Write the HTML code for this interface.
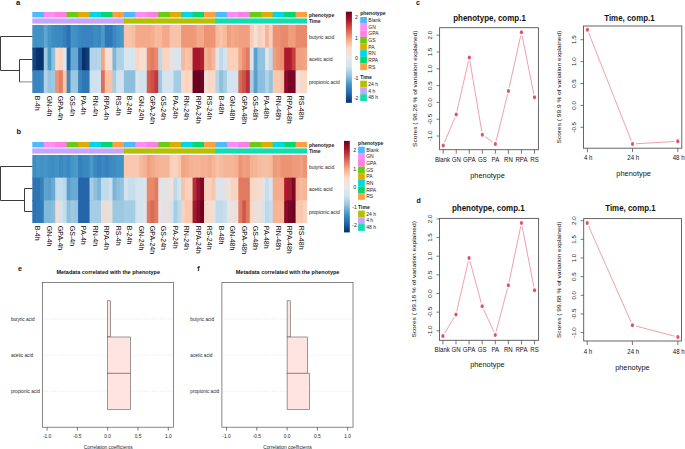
<!DOCTYPE html>
<html><head><meta charset="utf-8"><title>figure</title>
<style>html,body{margin:0;padding:0;background:#fff;width:685px;height:449px;overflow:hidden}svg{display:block}
text{font-family:"Liberation Sans",sans-serif}</style></head>
<body>
<svg width="685" height="449" viewBox="0 0 685 449">
<defs><linearGradient id="rdbu" x1="0" y1="1" x2="0" y2="0">
<stop offset="0" stop-color="#053061"/>
<stop offset="0.1" stop-color="#2166AC"/>
<stop offset="0.2" stop-color="#4393C3"/>
<stop offset="0.3" stop-color="#92C5DE"/>
<stop offset="0.4" stop-color="#D1E5F0"/>
<stop offset="0.5" stop-color="#E9E9E9"/>
<stop offset="0.6" stop-color="#FDDBC7"/>
<stop offset="0.7" stop-color="#F4A582"/>
<stop offset="0.8" stop-color="#D6604D"/>
<stop offset="0.9" stop-color="#B2182B"/>
<stop offset="1" stop-color="#67001F"/>
</linearGradient></defs>
<rect width="685" height="449" fill="#fff"/>
<text x="16.1" y="4.9" font-size="7.6" font-weight="bold" fill="#111" font-family="Liberation Sans, sans-serif">a</text>
<text x="16.5" y="133.8" font-size="7.4" font-weight="bold" fill="#111" font-family="Liberation Sans, sans-serif">b</text>
<rect x="32.3" y="12" width="12.35" height="5.4" fill="#4FB9FF"/>
<rect x="43.75" y="12" width="12.35" height="5.4" fill="#FF8BF5"/>
<rect x="55.2" y="12" width="12.35" height="5.4" fill="#FF7FE6"/>
<rect x="66.64" y="12" width="12.35" height="5.4" fill="#6ACB14"/>
<rect x="78.09" y="12" width="12.35" height="5.4" fill="#DDAE00"/>
<rect x="89.54" y="12" width="12.35" height="5.4" fill="#00D6E6"/>
<rect x="100.99" y="12" width="12.35" height="5.4" fill="#05D672"/>
<rect x="112.44" y="12" width="12.35" height="5.4" fill="#FFA040"/>
<rect x="32.3" y="18.4" width="92.48" height="5.2" fill="#C3A6FF"/>
<rect x="123.88" y="12" width="12.35" height="5.4" fill="#4FB9FF"/>
<rect x="135.33" y="12" width="12.35" height="5.4" fill="#FF8BF5"/>
<rect x="146.78" y="12" width="12.35" height="5.4" fill="#FF7FE6"/>
<rect x="158.23" y="12" width="12.35" height="5.4" fill="#6ACB14"/>
<rect x="169.68" y="12" width="12.35" height="5.4" fill="#DDAE00"/>
<rect x="181.12" y="12" width="12.35" height="5.4" fill="#00D6E6"/>
<rect x="192.57" y="12" width="12.35" height="5.4" fill="#05D672"/>
<rect x="204.02" y="12" width="12.35" height="5.4" fill="#FFA040"/>
<rect x="123.88" y="18.4" width="92.48" height="5.2" fill="#B7BF00"/>
<rect x="215.47" y="12" width="12.35" height="5.4" fill="#4FB9FF"/>
<rect x="226.91" y="12" width="12.35" height="5.4" fill="#FF8BF5"/>
<rect x="238.36" y="12" width="12.35" height="5.4" fill="#FF7FE6"/>
<rect x="249.81" y="12" width="12.35" height="5.4" fill="#6ACB14"/>
<rect x="261.26" y="12" width="12.35" height="5.4" fill="#DDAE00"/>
<rect x="272.71" y="12" width="12.35" height="5.4" fill="#00D6E6"/>
<rect x="284.15" y="12" width="12.35" height="5.4" fill="#05D672"/>
<rect x="295.6" y="12" width="11.45" height="5.4" fill="#FFA040"/>
<rect x="215.47" y="18.4" width="91.58" height="5.2" fill="#15DCAE"/>
<rect x="32.3" y="25" width="4.72" height="23.57" fill="#4292C6"/>
<rect x="36.12" y="25" width="4.72" height="23.57" fill="#4292C6"/>
<rect x="39.93" y="25" width="4.72" height="23.57" fill="#4292C6"/>
<rect x="43.75" y="25" width="4.72" height="23.57" fill="#5EA5D2"/>
<rect x="47.56" y="25" width="4.72" height="23.57" fill="#4595C8"/>
<rect x="51.38" y="25" width="4.72" height="23.57" fill="#3D8DC3"/>
<rect x="55.2" y="25" width="4.72" height="23.57" fill="#3A89C1"/>
<rect x="59.01" y="25" width="4.72" height="23.57" fill="#3A89C1"/>
<rect x="62.83" y="25" width="4.72" height="23.57" fill="#3580BC"/>
<rect x="66.64" y="25" width="4.72" height="23.57" fill="#2A70B3"/>
<rect x="70.46" y="25" width="4.72" height="23.57" fill="#4292C6"/>
<rect x="74.28" y="25" width="4.72" height="23.57" fill="#4090C5"/>
<rect x="78.09" y="25" width="4.72" height="23.57" fill="#3A88C0"/>
<rect x="81.91" y="25" width="4.72" height="23.57" fill="#3984BF"/>
<rect x="85.72" y="25" width="4.72" height="23.57" fill="#3984BF"/>
<rect x="89.54" y="25" width="4.72" height="23.57" fill="#3984BF"/>
<rect x="93.36" y="25" width="4.72" height="23.57" fill="#3D8DC3"/>
<rect x="97.17" y="25" width="4.72" height="23.57" fill="#3A88C0"/>
<rect x="100.99" y="25" width="4.72" height="23.57" fill="#4A98CA"/>
<rect x="104.8" y="25" width="4.72" height="23.57" fill="#2F78B7"/>
<rect x="108.62" y="25" width="4.72" height="23.57" fill="#2F78B7"/>
<rect x="112.44" y="25" width="4.72" height="23.57" fill="#3A88C0"/>
<rect x="116.25" y="25" width="4.72" height="23.57" fill="#4292C6"/>
<rect x="120.07" y="25" width="4.72" height="23.57" fill="#4A98CA"/>
<rect x="123.88" y="25" width="4.72" height="23.57" fill="#F8C3A8"/>
<rect x="127.7" y="25" width="4.72" height="23.57" fill="#F8C3A8"/>
<rect x="131.52" y="25" width="4.72" height="23.57" fill="#F7BEA2"/>
<rect x="135.33" y="25" width="4.72" height="23.57" fill="#F4A98A"/>
<rect x="139.15" y="25" width="4.72" height="23.57" fill="#F4A98A"/>
<rect x="142.96" y="25" width="4.72" height="23.57" fill="#F4A98A"/>
<rect x="146.78" y="25" width="4.72" height="23.57" fill="#F4A98A"/>
<rect x="150.6" y="25" width="4.72" height="23.57" fill="#F5AE8F"/>
<rect x="154.41" y="25" width="4.72" height="23.57" fill="#F7BA9D"/>
<rect x="158.23" y="25" width="4.72" height="23.57" fill="#F7BA9D"/>
<rect x="162.04" y="25" width="4.72" height="23.57" fill="#F4A98A"/>
<rect x="165.86" y="25" width="4.72" height="23.57" fill="#F4A98A"/>
<rect x="169.68" y="25" width="4.72" height="23.57" fill="#F8C3A8"/>
<rect x="173.49" y="25" width="4.72" height="23.57" fill="#F8C3A8"/>
<rect x="177.31" y="25" width="4.72" height="23.57" fill="#F8C3A8"/>
<rect x="181.12" y="25" width="4.72" height="23.57" fill="#EF9878"/>
<rect x="184.94" y="25" width="4.72" height="23.57" fill="#EF9878"/>
<rect x="188.75" y="25" width="4.72" height="23.57" fill="#EF9878"/>
<rect x="192.57" y="25" width="4.72" height="23.57" fill="#EF9A7A"/>
<rect x="196.39" y="25" width="4.72" height="23.57" fill="#F4A98A"/>
<rect x="200.2" y="25" width="4.72" height="23.57" fill="#F4A98A"/>
<rect x="204.02" y="25" width="4.72" height="23.57" fill="#EE9474"/>
<rect x="207.83" y="25" width="4.72" height="23.57" fill="#EE9474"/>
<rect x="211.65" y="25" width="4.72" height="23.57" fill="#EE9474"/>
<rect x="215.47" y="25" width="4.72" height="23.57" fill="#F7BCA0"/>
<rect x="219.28" y="25" width="4.72" height="23.57" fill="#F8C4AA"/>
<rect x="223.1" y="25" width="4.72" height="23.57" fill="#F6BA9C"/>
<rect x="226.91" y="25" width="4.72" height="23.57" fill="#F0A080"/>
<rect x="230.73" y="25" width="4.72" height="23.57" fill="#F3AA8A"/>
<rect x="234.55" y="25" width="4.72" height="23.57" fill="#F2A583"/>
<rect x="238.36" y="25" width="4.72" height="23.57" fill="#F0A080"/>
<rect x="242.18" y="25" width="4.72" height="23.57" fill="#F0A080"/>
<rect x="245.99" y="25" width="4.72" height="23.57" fill="#F0A080"/>
<rect x="249.81" y="25" width="4.72" height="23.57" fill="#F8CDB8"/>
<rect x="253.63" y="25" width="4.72" height="23.57" fill="#F3E0D8"/>
<rect x="257.44" y="25" width="4.72" height="23.57" fill="#F8D0BB"/>
<rect x="261.26" y="25" width="4.72" height="23.57" fill="#FBD6C4"/>
<rect x="265.07" y="25" width="4.72" height="23.57" fill="#F6B598"/>
<rect x="268.89" y="25" width="4.72" height="23.57" fill="#FAD0BB"/>
<rect x="272.71" y="25" width="4.72" height="23.57" fill="#EC9273"/>
<rect x="276.52" y="25" width="4.72" height="23.57" fill="#EC9273"/>
<rect x="280.34" y="25" width="4.72" height="23.57" fill="#E98A6D"/>
<rect x="284.15" y="25" width="4.72" height="23.57" fill="#E98A6D"/>
<rect x="287.97" y="25" width="4.72" height="23.57" fill="#F09D7E"/>
<rect x="291.79" y="25" width="4.72" height="23.57" fill="#F09D7E"/>
<rect x="295.6" y="25" width="4.72" height="23.57" fill="#E98A6D"/>
<rect x="299.42" y="25" width="4.72" height="23.57" fill="#E98A6D"/>
<rect x="303.23" y="25" width="3.82" height="23.57" fill="#E98A6D"/>
<rect x="32.3" y="47.67" width="4.72" height="23.56" fill="#104581"/>
<rect x="36.12" y="47.67" width="4.72" height="23.56" fill="#08326D"/>
<rect x="39.93" y="47.67" width="4.72" height="23.56" fill="#08326D"/>
<rect x="43.75" y="47.67" width="4.72" height="23.56" fill="#9DC9E1"/>
<rect x="47.56" y="47.67" width="4.72" height="23.56" fill="#4E9BCB"/>
<rect x="51.38" y="47.67" width="4.72" height="23.56" fill="#8EC1DD"/>
<rect x="55.2" y="47.67" width="4.72" height="23.56" fill="#FDD9C6"/>
<rect x="59.01" y="47.67" width="4.72" height="23.56" fill="#FCD3BD"/>
<rect x="62.83" y="47.67" width="4.72" height="23.56" fill="#DCE6EE"/>
<rect x="66.64" y="47.67" width="4.72" height="23.56" fill="#1B5FA3"/>
<rect x="70.46" y="47.67" width="4.72" height="23.56" fill="#66A9D2"/>
<rect x="74.28" y="47.67" width="4.72" height="23.56" fill="#66A9D2"/>
<rect x="78.09" y="47.67" width="4.72" height="23.56" fill="#2262A6"/>
<rect x="81.91" y="47.67" width="4.72" height="23.56" fill="#08306B"/>
<rect x="85.72" y="47.67" width="4.72" height="23.56" fill="#0F3F7A"/>
<rect x="89.54" y="47.67" width="4.72" height="23.56" fill="#B3D4E8"/>
<rect x="93.36" y="47.67" width="4.72" height="23.56" fill="#B3D4E8"/>
<rect x="97.17" y="47.67" width="4.72" height="23.56" fill="#B6D6E9"/>
<rect x="100.99" y="47.67" width="4.72" height="23.56" fill="#F4A582"/>
<rect x="104.8" y="47.67" width="4.72" height="23.56" fill="#F4DFD5"/>
<rect x="108.62" y="47.67" width="4.72" height="23.56" fill="#F2DFD6"/>
<rect x="112.44" y="47.67" width="4.72" height="23.56" fill="#7DB6D9"/>
<rect x="116.25" y="47.67" width="4.72" height="23.56" fill="#B0D2E6"/>
<rect x="120.07" y="47.67" width="4.72" height="23.56" fill="#B0D2E6"/>
<rect x="123.88" y="47.67" width="4.72" height="23.56" fill="#D6E5F0"/>
<rect x="127.7" y="47.67" width="4.72" height="23.56" fill="#D6E5F0"/>
<rect x="131.52" y="47.67" width="4.72" height="23.56" fill="#D6E5F0"/>
<rect x="135.33" y="47.67" width="4.72" height="23.56" fill="#FBD5C2"/>
<rect x="139.15" y="47.67" width="4.72" height="23.56" fill="#F8DDD0"/>
<rect x="142.96" y="47.67" width="4.72" height="23.56" fill="#F2DFD8"/>
<rect x="146.78" y="47.67" width="4.72" height="23.56" fill="#E9876B"/>
<rect x="150.6" y="47.67" width="4.72" height="23.56" fill="#E57A60"/>
<rect x="154.41" y="47.67" width="4.72" height="23.56" fill="#E9886C"/>
<rect x="158.23" y="47.67" width="4.72" height="23.56" fill="#BCD9EA"/>
<rect x="162.04" y="47.67" width="4.72" height="23.56" fill="#F9D4BE"/>
<rect x="165.86" y="47.67" width="4.72" height="23.56" fill="#F9D4BE"/>
<rect x="169.68" y="47.67" width="4.72" height="23.56" fill="#E6E2E3"/>
<rect x="173.49" y="47.67" width="4.72" height="23.56" fill="#D8E5EE"/>
<rect x="177.31" y="47.67" width="4.72" height="23.56" fill="#D8E5EE"/>
<rect x="181.12" y="47.67" width="4.72" height="23.56" fill="#F7B89B"/>
<rect x="184.94" y="47.67" width="4.72" height="23.56" fill="#F9C5AC"/>
<rect x="188.75" y="47.67" width="4.72" height="23.56" fill="#F7BEA2"/>
<rect x="192.57" y="47.67" width="4.72" height="23.56" fill="#A8162E"/>
<rect x="196.39" y="47.67" width="4.72" height="23.56" fill="#A8162E"/>
<rect x="200.2" y="47.67" width="4.72" height="23.56" fill="#B01F2E"/>
<rect x="204.02" y="47.67" width="4.72" height="23.56" fill="#F5B194"/>
<rect x="207.83" y="47.67" width="4.72" height="23.56" fill="#F4A788"/>
<rect x="211.65" y="47.67" width="4.72" height="23.56" fill="#F6B89C"/>
<rect x="215.47" y="47.67" width="4.72" height="23.56" fill="#E0E4E9"/>
<rect x="219.28" y="47.67" width="4.72" height="23.56" fill="#BDD9EA"/>
<rect x="223.1" y="47.67" width="4.72" height="23.56" fill="#D3E4EF"/>
<rect x="226.91" y="47.67" width="4.72" height="23.56" fill="#FBCFB8"/>
<rect x="230.73" y="47.67" width="4.72" height="23.56" fill="#FBCFB8"/>
<rect x="234.55" y="47.67" width="4.72" height="23.56" fill="#FBCFB8"/>
<rect x="238.36" y="47.67" width="4.72" height="23.56" fill="#F3A688"/>
<rect x="242.18" y="47.67" width="4.72" height="23.56" fill="#E98C6F"/>
<rect x="245.99" y="47.67" width="4.72" height="23.56" fill="#E07B62"/>
<rect x="249.81" y="47.67" width="4.72" height="23.56" fill="#D6E5EF"/>
<rect x="253.63" y="47.67" width="4.72" height="23.56" fill="#5DA0CD"/>
<rect x="257.44" y="47.67" width="4.72" height="23.56" fill="#93C4DF"/>
<rect x="261.26" y="47.67" width="4.72" height="23.56" fill="#93C4DF"/>
<rect x="265.07" y="47.67" width="4.72" height="23.56" fill="#E3E2E5"/>
<rect x="268.89" y="47.67" width="4.72" height="23.56" fill="#BFDBEB"/>
<rect x="272.71" y="47.67" width="4.72" height="23.56" fill="#F0A080"/>
<rect x="276.52" y="47.67" width="4.72" height="23.56" fill="#EC9474"/>
<rect x="280.34" y="47.67" width="4.72" height="23.56" fill="#EA8D70"/>
<rect x="284.15" y="47.67" width="4.72" height="23.56" fill="#B2182B"/>
<rect x="287.97" y="47.67" width="4.72" height="23.56" fill="#B01A2E"/>
<rect x="291.79" y="47.67" width="4.72" height="23.56" fill="#C53E3E"/>
<rect x="295.6" y="47.67" width="4.72" height="23.56" fill="#F0A080"/>
<rect x="299.42" y="47.67" width="4.72" height="23.56" fill="#F0A080"/>
<rect x="303.23" y="47.67" width="3.82" height="23.56" fill="#F2A583"/>
<rect x="32.3" y="70.33" width="4.72" height="22.67" fill="#3A84BF"/>
<rect x="36.12" y="70.33" width="4.72" height="22.67" fill="#3A84BF"/>
<rect x="39.93" y="70.33" width="4.72" height="22.67" fill="#3D88C1"/>
<rect x="43.75" y="70.33" width="4.72" height="22.67" fill="#B2D3E7"/>
<rect x="47.56" y="70.33" width="4.72" height="22.67" fill="#97C4DF"/>
<rect x="51.38" y="70.33" width="4.72" height="22.67" fill="#9DC8E0"/>
<rect x="55.2" y="70.33" width="4.72" height="22.67" fill="#EE9273"/>
<rect x="59.01" y="70.33" width="4.72" height="22.67" fill="#E57F62"/>
<rect x="62.83" y="70.33" width="4.72" height="22.67" fill="#FAC7AE"/>
<rect x="66.64" y="70.33" width="4.72" height="22.67" fill="#3A88C0"/>
<rect x="70.46" y="70.33" width="4.72" height="22.67" fill="#9DC8E0"/>
<rect x="74.28" y="70.33" width="4.72" height="22.67" fill="#9DC8E0"/>
<rect x="78.09" y="70.33" width="4.72" height="22.67" fill="#3A84BF"/>
<rect x="81.91" y="70.33" width="4.72" height="22.67" fill="#2E76B6"/>
<rect x="85.72" y="70.33" width="4.72" height="22.67" fill="#2E76B6"/>
<rect x="89.54" y="70.33" width="4.72" height="22.67" fill="#CDE1EE"/>
<rect x="93.36" y="70.33" width="4.72" height="22.67" fill="#CDE1EE"/>
<rect x="97.17" y="70.33" width="4.72" height="22.67" fill="#D2E4EF"/>
<rect x="100.99" y="70.33" width="4.72" height="22.67" fill="#DE6E58"/>
<rect x="104.8" y="70.33" width="4.72" height="22.67" fill="#F9C2A7"/>
<rect x="108.62" y="70.33" width="4.72" height="22.67" fill="#F9C2A7"/>
<rect x="112.44" y="70.33" width="4.72" height="22.67" fill="#A7CDE3"/>
<rect x="116.25" y="70.33" width="4.72" height="22.67" fill="#D2E3EF"/>
<rect x="120.07" y="70.33" width="4.72" height="22.67" fill="#D2E3EF"/>
<rect x="123.88" y="70.33" width="4.72" height="22.67" fill="#8EC0DD"/>
<rect x="127.7" y="70.33" width="4.72" height="22.67" fill="#8EC0DD"/>
<rect x="131.52" y="70.33" width="4.72" height="22.67" fill="#8EC0DD"/>
<rect x="135.33" y="70.33" width="4.72" height="22.67" fill="#DCE3EA"/>
<rect x="139.15" y="70.33" width="4.72" height="22.67" fill="#D0E3EF"/>
<rect x="142.96" y="70.33" width="4.72" height="22.67" fill="#D0E3EF"/>
<rect x="146.78" y="70.33" width="4.72" height="22.67" fill="#D65C4C"/>
<rect x="150.6" y="70.33" width="4.72" height="22.67" fill="#CC4E47"/>
<rect x="154.41" y="70.33" width="4.72" height="22.67" fill="#C0393D"/>
<rect x="158.23" y="70.33" width="4.72" height="22.67" fill="#9CC8E0"/>
<rect x="162.04" y="70.33" width="4.72" height="22.67" fill="#D3E4EF"/>
<rect x="165.86" y="70.33" width="4.72" height="22.67" fill="#D3E4EF"/>
<rect x="169.68" y="70.33" width="4.72" height="22.67" fill="#D3E4EF"/>
<rect x="173.49" y="70.33" width="4.72" height="22.67" fill="#A5CDE3"/>
<rect x="177.31" y="70.33" width="4.72" height="22.67" fill="#A5CDE3"/>
<rect x="181.12" y="70.33" width="4.72" height="22.67" fill="#FAD9C7"/>
<rect x="184.94" y="70.33" width="4.72" height="22.67" fill="#F9D3BE"/>
<rect x="188.75" y="70.33" width="4.72" height="22.67" fill="#FAD9C7"/>
<rect x="192.57" y="70.33" width="4.72" height="22.67" fill="#6B0020"/>
<rect x="196.39" y="70.33" width="4.72" height="22.67" fill="#67001F"/>
<rect x="200.2" y="70.33" width="4.72" height="22.67" fill="#6E0524"/>
<rect x="204.02" y="70.33" width="4.72" height="22.67" fill="#F2E0D8"/>
<rect x="207.83" y="70.33" width="4.72" height="22.67" fill="#F9D8C8"/>
<rect x="211.65" y="70.33" width="4.72" height="22.67" fill="#F9D8C8"/>
<rect x="215.47" y="70.33" width="4.72" height="22.67" fill="#B5D5E8"/>
<rect x="219.28" y="70.33" width="4.72" height="22.67" fill="#8EC0DC"/>
<rect x="223.1" y="70.33" width="4.72" height="22.67" fill="#A9CEE4"/>
<rect x="226.91" y="70.33" width="4.72" height="22.67" fill="#D3E4EF"/>
<rect x="230.73" y="70.33" width="4.72" height="22.67" fill="#D3E4EF"/>
<rect x="234.55" y="70.33" width="4.72" height="22.67" fill="#D3E4EF"/>
<rect x="238.36" y="70.33" width="4.72" height="22.67" fill="#DA6A55"/>
<rect x="242.18" y="70.33" width="4.72" height="22.67" fill="#CC5147"/>
<rect x="245.99" y="70.33" width="4.72" height="22.67" fill="#B8313A"/>
<rect x="249.81" y="70.33" width="4.72" height="22.67" fill="#A9CEE4"/>
<rect x="253.63" y="70.33" width="4.72" height="22.67" fill="#5C9FCC"/>
<rect x="257.44" y="70.33" width="4.72" height="22.67" fill="#8BBFDC"/>
<rect x="261.26" y="70.33" width="4.72" height="22.67" fill="#8DC0DC"/>
<rect x="265.07" y="70.33" width="4.72" height="22.67" fill="#AFD2E6"/>
<rect x="268.89" y="70.33" width="4.72" height="22.67" fill="#93C4DF"/>
<rect x="272.71" y="70.33" width="4.72" height="22.67" fill="#F9C9AF"/>
<rect x="276.52" y="70.33" width="4.72" height="22.67" fill="#F9C9AF"/>
<rect x="280.34" y="70.33" width="4.72" height="22.67" fill="#F7BFA3"/>
<rect x="284.15" y="70.33" width="4.72" height="22.67" fill="#8A0A27"/>
<rect x="287.97" y="70.33" width="4.72" height="22.67" fill="#780525"/>
<rect x="291.79" y="70.33" width="4.72" height="22.67" fill="#7D0626"/>
<rect x="295.6" y="70.33" width="4.72" height="22.67" fill="#F2E2DA"/>
<rect x="299.42" y="70.33" width="4.72" height="22.67" fill="#FAD9C7"/>
<rect x="303.23" y="70.33" width="3.82" height="22.67" fill="#FAD9C7"/>
<path d="M32.3 59.5H19.5V81.9" stroke="#3c3c3c" stroke-width="1" fill="none"/>
<path d="M19.5 81.9H32.3" stroke="#3c3c3c" stroke-width="1" stroke-opacity="0.6"/>
<path d="M32.3 36.5H0.5V70.5H19.5" stroke="#3c3c3c" stroke-width="1" fill="none"/>
<text x="308.9" y="16.9" font-size="5" font-weight="bold" fill="#222" font-family="Liberation Sans, sans-serif">phenotype</text>
<text x="308.9" y="22.9" font-size="5" font-weight="bold" fill="#222" font-family="Liberation Sans, sans-serif">Time</text>
<text x="308.9" y="38.54" font-size="5" fill="#1e1e1e" font-family="Liberation Sans, sans-serif">butyric acid</text>
<text x="308.9" y="61.2" font-size="5" fill="#1e1e1e" font-family="Liberation Sans, sans-serif">acetic acid</text>
<text x="308.9" y="83.86" font-size="5" fill="#1e1e1e" font-family="Liberation Sans, sans-serif">propionic acid</text>
<text transform="translate(35.47 95.8) rotate(90)" font-size="7" fill="#000" font-family="Liberation Sans, sans-serif">B-4h</text>
<text transform="translate(46.92 95.8) rotate(90)" font-size="7" fill="#000" font-family="Liberation Sans, sans-serif">GN-4h</text>
<text transform="translate(58.37 95.8) rotate(90)" font-size="7" fill="#000" font-family="Liberation Sans, sans-serif">GPA-4h</text>
<text transform="translate(69.82 95.8) rotate(90)" font-size="7" fill="#000" font-family="Liberation Sans, sans-serif">GS-4h</text>
<text transform="translate(81.27 95.8) rotate(90)" font-size="7" fill="#000" font-family="Liberation Sans, sans-serif">PA-4h</text>
<text transform="translate(92.71 95.8) rotate(90)" font-size="7" fill="#000" font-family="Liberation Sans, sans-serif">RN-4h</text>
<text transform="translate(104.16 95.8) rotate(90)" font-size="7" fill="#000" font-family="Liberation Sans, sans-serif">RPA-4h</text>
<text transform="translate(115.61 95.8) rotate(90)" font-size="7" fill="#000" font-family="Liberation Sans, sans-serif">RS-4h</text>
<text transform="translate(127.06 95.8) rotate(90)" font-size="7" fill="#000" font-family="Liberation Sans, sans-serif">B-24h</text>
<text transform="translate(138.51 95.8) rotate(90)" font-size="7" fill="#000" font-family="Liberation Sans, sans-serif">GN-24h</text>
<text transform="translate(149.95 95.8) rotate(90)" font-size="7" fill="#000" font-family="Liberation Sans, sans-serif">GPA-24h</text>
<text transform="translate(161.4 95.8) rotate(90)" font-size="7" fill="#000" font-family="Liberation Sans, sans-serif">GS-24h</text>
<text transform="translate(172.85 95.8) rotate(90)" font-size="7" fill="#000" font-family="Liberation Sans, sans-serif">PA-24h</text>
<text transform="translate(184.3 95.8) rotate(90)" font-size="7" fill="#000" font-family="Liberation Sans, sans-serif">RN-24h</text>
<text transform="translate(195.74 95.8) rotate(90)" font-size="7" fill="#000" font-family="Liberation Sans, sans-serif">RPA-24h</text>
<text transform="translate(207.19 95.8) rotate(90)" font-size="7" fill="#000" font-family="Liberation Sans, sans-serif">RS-24h</text>
<text transform="translate(218.64 95.8) rotate(90)" font-size="7" fill="#000" font-family="Liberation Sans, sans-serif">B-48h</text>
<text transform="translate(230.09 95.8) rotate(90)" font-size="7" fill="#000" font-family="Liberation Sans, sans-serif">GN-48h</text>
<text transform="translate(241.54 95.8) rotate(90)" font-size="7" fill="#000" font-family="Liberation Sans, sans-serif">GPA-48h</text>
<text transform="translate(252.98 95.8) rotate(90)" font-size="7" fill="#000" font-family="Liberation Sans, sans-serif">GS-48h</text>
<text transform="translate(264.43 95.8) rotate(90)" font-size="7" fill="#000" font-family="Liberation Sans, sans-serif">PA-48h</text>
<text transform="translate(275.88 95.8) rotate(90)" font-size="7" fill="#000" font-family="Liberation Sans, sans-serif">RN-48h</text>
<text transform="translate(287.33 95.8) rotate(90)" font-size="7" fill="#000" font-family="Liberation Sans, sans-serif">RPA-48h</text>
<text transform="translate(298.78 95.8) rotate(90)" font-size="7" fill="#000" font-family="Liberation Sans, sans-serif">RS-48h</text>
<rect x="345.9" y="11.7" width="6" height="91.1" fill="url(#rdbu)"/>
<text x="354.9" y="19.4" font-size="5.2" fill="#1e1e1e" font-family="Liberation Sans, sans-serif">2</text>
<text x="354.9" y="39.5" font-size="5.2" fill="#1e1e1e" font-family="Liberation Sans, sans-serif">1</text>
<text x="354.9" y="60" font-size="5.2" fill="#1e1e1e" font-family="Liberation Sans, sans-serif">0</text>
<text x="353.9" y="80" font-size="5.2" fill="#1e1e1e" font-family="Liberation Sans, sans-serif">-1</text>
<text x="353.9" y="100.1" font-size="5.2" fill="#1e1e1e" font-family="Liberation Sans, sans-serif">-2</text>
<text x="360.2" y="15.2" font-size="5" font-weight="bold" fill="#222" font-family="Liberation Sans, sans-serif">phenotype</text>
<rect x="360.2" y="17" width="6.7" height="6.68" fill="#4FB9FF"/>
<text x="368.3" y="22.1" font-size="5" fill="#1e1e1e" font-family="Liberation Sans, sans-serif">Blank</text>
<rect x="360.2" y="23.63" width="6.7" height="6.68" fill="#FF8BF5"/>
<text x="368.3" y="28.73" font-size="5" fill="#1e1e1e" font-family="Liberation Sans, sans-serif">GN</text>
<rect x="360.2" y="30.26" width="6.7" height="6.68" fill="#FF7FE6"/>
<text x="368.3" y="35.36" font-size="5" fill="#1e1e1e" font-family="Liberation Sans, sans-serif">GPA</text>
<rect x="360.2" y="36.89" width="6.7" height="6.68" fill="#6ACB14"/>
<text x="368.3" y="41.99" font-size="5" fill="#1e1e1e" font-family="Liberation Sans, sans-serif">GS</text>
<rect x="360.2" y="43.52" width="6.7" height="6.68" fill="#DDAE00"/>
<text x="368.3" y="48.62" font-size="5" fill="#1e1e1e" font-family="Liberation Sans, sans-serif">PA</text>
<rect x="360.2" y="50.15" width="6.7" height="6.68" fill="#00D6E6"/>
<text x="368.3" y="55.25" font-size="5" fill="#1e1e1e" font-family="Liberation Sans, sans-serif">RN</text>
<rect x="360.2" y="56.78" width="6.7" height="6.68" fill="#05D672"/>
<text x="368.3" y="61.88" font-size="5" fill="#1e1e1e" font-family="Liberation Sans, sans-serif">RPA</text>
<rect x="360.2" y="63.41" width="6.7" height="6.68" fill="#FFA040"/>
<text x="368.3" y="68.51" font-size="5" fill="#1e1e1e" font-family="Liberation Sans, sans-serif">RS</text>
<text x="360.2" y="79.3" font-size="5" font-weight="bold" fill="#222" font-family="Liberation Sans, sans-serif">Time</text>
<rect x="360.2" y="80.7" width="6.7" height="6.8" fill="#B7BF00"/>
<text x="368.3" y="85.8" font-size="5" fill="#1e1e1e" font-family="Liberation Sans, sans-serif">24 h</text>
<rect x="360.2" y="87.45" width="6.7" height="6.8" fill="#C3A6FF"/>
<text x="368.3" y="92.55" font-size="5" fill="#1e1e1e" font-family="Liberation Sans, sans-serif">4 h</text>
<rect x="360.2" y="94.2" width="6.7" height="6.8" fill="#15DCAE"/>
<text x="368.3" y="99.3" font-size="5" fill="#1e1e1e" font-family="Liberation Sans, sans-serif">48 h</text>
<rect x="32.3" y="142" width="12.35" height="5.4" fill="#4FB9FF"/>
<rect x="43.75" y="142" width="12.35" height="5.4" fill="#FF8BF5"/>
<rect x="55.2" y="142" width="12.35" height="5.4" fill="#FF7FE6"/>
<rect x="66.64" y="142" width="12.35" height="5.4" fill="#6ACB14"/>
<rect x="78.09" y="142" width="12.35" height="5.4" fill="#DDAE00"/>
<rect x="89.54" y="142" width="12.35" height="5.4" fill="#00D6E6"/>
<rect x="100.99" y="142" width="12.35" height="5.4" fill="#05D672"/>
<rect x="112.44" y="142" width="12.35" height="5.4" fill="#FFA040"/>
<rect x="32.3" y="148.4" width="92.48" height="5.2" fill="#C3A6FF"/>
<rect x="123.88" y="142" width="12.35" height="5.4" fill="#4FB9FF"/>
<rect x="135.33" y="142" width="12.35" height="5.4" fill="#FF8BF5"/>
<rect x="146.78" y="142" width="12.35" height="5.4" fill="#FF7FE6"/>
<rect x="158.23" y="142" width="12.35" height="5.4" fill="#6ACB14"/>
<rect x="169.68" y="142" width="12.35" height="5.4" fill="#DDAE00"/>
<rect x="181.12" y="142" width="12.35" height="5.4" fill="#00D6E6"/>
<rect x="192.57" y="142" width="12.35" height="5.4" fill="#05D672"/>
<rect x="204.02" y="142" width="12.35" height="5.4" fill="#FFA040"/>
<rect x="123.88" y="148.4" width="92.48" height="5.2" fill="#B7BF00"/>
<rect x="215.47" y="142" width="12.35" height="5.4" fill="#4FB9FF"/>
<rect x="226.91" y="142" width="12.35" height="5.4" fill="#FF8BF5"/>
<rect x="238.36" y="142" width="12.35" height="5.4" fill="#FF7FE6"/>
<rect x="249.81" y="142" width="12.35" height="5.4" fill="#6ACB14"/>
<rect x="261.26" y="142" width="12.35" height="5.4" fill="#DDAE00"/>
<rect x="272.71" y="142" width="12.35" height="5.4" fill="#00D6E6"/>
<rect x="284.15" y="142" width="12.35" height="5.4" fill="#05D672"/>
<rect x="295.6" y="142" width="11.45" height="5.4" fill="#FFA040"/>
<rect x="215.47" y="148.4" width="91.58" height="5.2" fill="#15DCAE"/>
<rect x="32.3" y="155" width="4.72" height="23.57" fill="#3D8DC3"/>
<rect x="36.12" y="155" width="4.72" height="23.57" fill="#4596C8"/>
<rect x="39.93" y="155" width="4.72" height="23.57" fill="#4292C6"/>
<rect x="43.75" y="155" width="4.72" height="23.57" fill="#4596C8"/>
<rect x="47.56" y="155" width="4.72" height="23.57" fill="#3F8EC4"/>
<rect x="51.38" y="155" width="4.72" height="23.57" fill="#3D8DC3"/>
<rect x="55.2" y="155" width="4.72" height="23.57" fill="#4292C6"/>
<rect x="59.01" y="155" width="4.72" height="23.57" fill="#3A88C0"/>
<rect x="62.83" y="155" width="4.72" height="23.57" fill="#3F8EC4"/>
<rect x="66.64" y="155" width="4.72" height="23.57" fill="#3A88C0"/>
<rect x="70.46" y="155" width="4.72" height="23.57" fill="#4596C8"/>
<rect x="74.28" y="155" width="4.72" height="23.57" fill="#4A99CA"/>
<rect x="78.09" y="155" width="4.72" height="23.57" fill="#3680BC"/>
<rect x="81.91" y="155" width="4.72" height="23.57" fill="#3A88C0"/>
<rect x="85.72" y="155" width="4.72" height="23.57" fill="#3A88C0"/>
<rect x="89.54" y="155" width="4.72" height="23.57" fill="#4A99CA"/>
<rect x="93.36" y="155" width="4.72" height="23.57" fill="#3A88C0"/>
<rect x="97.17" y="155" width="4.72" height="23.57" fill="#3680BC"/>
<rect x="100.99" y="155" width="4.72" height="23.57" fill="#3A88C0"/>
<rect x="104.8" y="155" width="4.72" height="23.57" fill="#3680BC"/>
<rect x="108.62" y="155" width="4.72" height="23.57" fill="#3A88C0"/>
<rect x="112.44" y="155" width="4.72" height="23.57" fill="#3D8DC3"/>
<rect x="116.25" y="155" width="4.72" height="23.57" fill="#4292C6"/>
<rect x="120.07" y="155" width="4.72" height="23.57" fill="#4292C6"/>
<rect x="123.88" y="155" width="4.72" height="23.57" fill="#F9C8AE"/>
<rect x="127.7" y="155" width="4.72" height="23.57" fill="#F9C8AE"/>
<rect x="131.52" y="155" width="4.72" height="23.57" fill="#F9C8AE"/>
<rect x="135.33" y="155" width="4.72" height="23.57" fill="#F9C8AE"/>
<rect x="139.15" y="155" width="4.72" height="23.57" fill="#F5BA9C"/>
<rect x="142.96" y="155" width="4.72" height="23.57" fill="#F4B293"/>
<rect x="146.78" y="155" width="4.72" height="23.57" fill="#F0A080"/>
<rect x="150.6" y="155" width="4.72" height="23.57" fill="#F2A88A"/>
<rect x="154.41" y="155" width="4.72" height="23.57" fill="#F5B193"/>
<rect x="158.23" y="155" width="4.72" height="23.57" fill="#F5B596"/>
<rect x="162.04" y="155" width="4.72" height="23.57" fill="#F5B596"/>
<rect x="165.86" y="155" width="4.72" height="23.57" fill="#F5B596"/>
<rect x="169.68" y="155" width="4.72" height="23.57" fill="#F9D0BB"/>
<rect x="173.49" y="155" width="4.72" height="23.57" fill="#FAD3BF"/>
<rect x="177.31" y="155" width="4.72" height="23.57" fill="#F9C8AE"/>
<rect x="181.12" y="155" width="4.72" height="23.57" fill="#F2A583"/>
<rect x="184.94" y="155" width="4.72" height="23.57" fill="#F3AA8A"/>
<rect x="188.75" y="155" width="4.72" height="23.57" fill="#F5B193"/>
<rect x="192.57" y="155" width="4.72" height="23.57" fill="#F5B596"/>
<rect x="196.39" y="155" width="4.72" height="23.57" fill="#F5B596"/>
<rect x="200.2" y="155" width="4.72" height="23.57" fill="#F4B091"/>
<rect x="204.02" y="155" width="4.72" height="23.57" fill="#F5B193"/>
<rect x="207.83" y="155" width="4.72" height="23.57" fill="#F3AA8A"/>
<rect x="211.65" y="155" width="4.72" height="23.57" fill="#F5B596"/>
<rect x="215.47" y="155" width="4.72" height="23.57" fill="#F8C0A4"/>
<rect x="219.28" y="155" width="4.72" height="23.57" fill="#F7BCA0"/>
<rect x="223.1" y="155" width="4.72" height="23.57" fill="#F5B596"/>
<rect x="226.91" y="155" width="4.72" height="23.57" fill="#F5B596"/>
<rect x="230.73" y="155" width="4.72" height="23.57" fill="#F5B596"/>
<rect x="234.55" y="155" width="4.72" height="23.57" fill="#F4B091"/>
<rect x="238.36" y="155" width="4.72" height="23.57" fill="#EC9474"/>
<rect x="242.18" y="155" width="4.72" height="23.57" fill="#F0A080"/>
<rect x="245.99" y="155" width="4.72" height="23.57" fill="#EE9A7B"/>
<rect x="249.81" y="155" width="4.72" height="23.57" fill="#F5B193"/>
<rect x="253.63" y="155" width="4.72" height="23.57" fill="#F5B596"/>
<rect x="257.44" y="155" width="4.72" height="23.57" fill="#F7BCA0"/>
<rect x="261.26" y="155" width="4.72" height="23.57" fill="#F7BFA3"/>
<rect x="265.07" y="155" width="4.72" height="23.57" fill="#F7BFA3"/>
<rect x="268.89" y="155" width="4.72" height="23.57" fill="#F7BCA0"/>
<rect x="272.71" y="155" width="4.72" height="23.57" fill="#EE9A7B"/>
<rect x="276.52" y="155" width="4.72" height="23.57" fill="#F0A080"/>
<rect x="280.34" y="155" width="4.72" height="23.57" fill="#EC9474"/>
<rect x="284.15" y="155" width="4.72" height="23.57" fill="#EC9474"/>
<rect x="287.97" y="155" width="4.72" height="23.57" fill="#EC9474"/>
<rect x="291.79" y="155" width="4.72" height="23.57" fill="#EE9A7B"/>
<rect x="295.6" y="155" width="4.72" height="23.57" fill="#EE9A7B"/>
<rect x="299.42" y="155" width="4.72" height="23.57" fill="#F0A080"/>
<rect x="303.23" y="155" width="3.82" height="23.57" fill="#EC9474"/>
<rect x="32.3" y="177.67" width="4.72" height="23.56" fill="#2E74B5"/>
<rect x="36.12" y="177.67" width="4.72" height="23.56" fill="#2E74B5"/>
<rect x="39.93" y="177.67" width="4.72" height="23.56" fill="#3680BC"/>
<rect x="43.75" y="177.67" width="4.72" height="23.56" fill="#5FA3CF"/>
<rect x="47.56" y="177.67" width="4.72" height="23.56" fill="#5A9FCC"/>
<rect x="51.38" y="177.67" width="4.72" height="23.56" fill="#6BABD3"/>
<rect x="55.2" y="177.67" width="4.72" height="23.56" fill="#C3DDEC"/>
<rect x="59.01" y="177.67" width="4.72" height="23.56" fill="#C3DDEC"/>
<rect x="62.83" y="177.67" width="4.72" height="23.56" fill="#BBD8E9"/>
<rect x="66.64" y="177.67" width="4.72" height="23.56" fill="#5A9FCC"/>
<rect x="70.46" y="177.67" width="4.72" height="23.56" fill="#6BABD3"/>
<rect x="74.28" y="177.67" width="4.72" height="23.56" fill="#6BABD3"/>
<rect x="78.09" y="177.67" width="4.72" height="23.56" fill="#2565AA"/>
<rect x="81.91" y="177.67" width="4.72" height="23.56" fill="#2565AA"/>
<rect x="85.72" y="177.67" width="4.72" height="23.56" fill="#2565AA"/>
<rect x="89.54" y="177.67" width="4.72" height="23.56" fill="#A8CEE4"/>
<rect x="93.36" y="177.67" width="4.72" height="23.56" fill="#8DC0DC"/>
<rect x="97.17" y="177.67" width="4.72" height="23.56" fill="#7AB5D9"/>
<rect x="100.99" y="177.67" width="4.72" height="23.56" fill="#C0DBEB"/>
<rect x="104.8" y="177.67" width="4.72" height="23.56" fill="#C0DBEB"/>
<rect x="108.62" y="177.67" width="4.72" height="23.56" fill="#CCE1ED"/>
<rect x="112.44" y="177.67" width="4.72" height="23.56" fill="#7CB5DA"/>
<rect x="116.25" y="177.67" width="4.72" height="23.56" fill="#8DBFDC"/>
<rect x="120.07" y="177.67" width="4.72" height="23.56" fill="#93C3DE"/>
<rect x="123.88" y="177.67" width="4.72" height="23.56" fill="#D3E4EF"/>
<rect x="127.7" y="177.67" width="4.72" height="23.56" fill="#C7DFED"/>
<rect x="131.52" y="177.67" width="4.72" height="23.56" fill="#C7DFED"/>
<rect x="135.33" y="177.67" width="4.72" height="23.56" fill="#D3E4EF"/>
<rect x="139.15" y="177.67" width="4.72" height="23.56" fill="#D3E4EF"/>
<rect x="142.96" y="177.67" width="4.72" height="23.56" fill="#D8E5EE"/>
<rect x="146.78" y="177.67" width="4.72" height="23.56" fill="#E8896A"/>
<rect x="150.6" y="177.67" width="4.72" height="23.56" fill="#E8896A"/>
<rect x="154.41" y="177.67" width="4.72" height="23.56" fill="#E37B62"/>
<rect x="158.23" y="177.67" width="4.72" height="23.56" fill="#E3E3E3"/>
<rect x="162.04" y="177.67" width="4.72" height="23.56" fill="#E3E3E3"/>
<rect x="165.86" y="177.67" width="4.72" height="23.56" fill="#E3E3E3"/>
<rect x="169.68" y="177.67" width="4.72" height="23.56" fill="#F3E0D8"/>
<rect x="173.49" y="177.67" width="4.72" height="23.56" fill="#BDD9EA"/>
<rect x="177.31" y="177.67" width="4.72" height="23.56" fill="#D3E4EF"/>
<rect x="181.12" y="177.67" width="4.72" height="23.56" fill="#F8C4AA"/>
<rect x="184.94" y="177.67" width="4.72" height="23.56" fill="#F9D0BB"/>
<rect x="188.75" y="177.67" width="4.72" height="23.56" fill="#FAD3BF"/>
<rect x="192.57" y="177.67" width="4.72" height="23.56" fill="#B83035"/>
<rect x="196.39" y="177.67" width="4.72" height="23.56" fill="#9A1030"/>
<rect x="200.2" y="177.67" width="4.72" height="23.56" fill="#800826"/>
<rect x="204.02" y="177.67" width="4.72" height="23.56" fill="#F9D0BB"/>
<rect x="207.83" y="177.67" width="4.72" height="23.56" fill="#F9D0BB"/>
<rect x="211.65" y="177.67" width="4.72" height="23.56" fill="#F7C5AB"/>
<rect x="215.47" y="177.67" width="4.72" height="23.56" fill="#DCE3EA"/>
<rect x="219.28" y="177.67" width="4.72" height="23.56" fill="#DCE3EA"/>
<rect x="223.1" y="177.67" width="4.72" height="23.56" fill="#E8E0DC"/>
<rect x="226.91" y="177.67" width="4.72" height="23.56" fill="#ECE0DA"/>
<rect x="230.73" y="177.67" width="4.72" height="23.56" fill="#FAD3BF"/>
<rect x="234.55" y="177.67" width="4.72" height="23.56" fill="#FAD3BF"/>
<rect x="238.36" y="177.67" width="4.72" height="23.56" fill="#E07B62"/>
<rect x="242.18" y="177.67" width="4.72" height="23.56" fill="#E07B62"/>
<rect x="245.99" y="177.67" width="4.72" height="23.56" fill="#E07B62"/>
<rect x="249.81" y="177.67" width="4.72" height="23.56" fill="#F9D8C8"/>
<rect x="253.63" y="177.67" width="4.72" height="23.56" fill="#F9D8C8"/>
<rect x="257.44" y="177.67" width="4.72" height="23.56" fill="#F5DCD0"/>
<rect x="261.26" y="177.67" width="4.72" height="23.56" fill="#E8E2E0"/>
<rect x="265.07" y="177.67" width="4.72" height="23.56" fill="#C7DFED"/>
<rect x="268.89" y="177.67" width="4.72" height="23.56" fill="#D8E5EE"/>
<rect x="272.71" y="177.67" width="4.72" height="23.56" fill="#F4AC8D"/>
<rect x="276.52" y="177.67" width="4.72" height="23.56" fill="#F4AC8D"/>
<rect x="280.34" y="177.67" width="4.72" height="23.56" fill="#F4AC8D"/>
<rect x="284.15" y="177.67" width="4.72" height="23.56" fill="#B2182B"/>
<rect x="287.97" y="177.67" width="4.72" height="23.56" fill="#A01A30"/>
<rect x="291.79" y="177.67" width="4.72" height="23.56" fill="#800826"/>
<rect x="295.6" y="177.67" width="4.72" height="23.56" fill="#F5B193"/>
<rect x="299.42" y="177.67" width="4.72" height="23.56" fill="#F7BCA0"/>
<rect x="303.23" y="177.67" width="3.82" height="23.56" fill="#F5B596"/>
<rect x="32.3" y="200.33" width="4.72" height="22.67" fill="#2C73B4"/>
<rect x="36.12" y="200.33" width="4.72" height="22.67" fill="#2F78B7"/>
<rect x="39.93" y="200.33" width="4.72" height="22.67" fill="#3279B8"/>
<rect x="43.75" y="200.33" width="4.72" height="22.67" fill="#80B9DA"/>
<rect x="47.56" y="200.33" width="4.72" height="22.67" fill="#80B9DA"/>
<rect x="51.38" y="200.33" width="4.72" height="22.67" fill="#88BDDB"/>
<rect x="55.2" y="200.33" width="4.72" height="22.67" fill="#EDDDD5"/>
<rect x="59.01" y="200.33" width="4.72" height="22.67" fill="#D3E4EF"/>
<rect x="62.83" y="200.33" width="4.72" height="22.67" fill="#C3DDEC"/>
<rect x="66.64" y="200.33" width="4.72" height="22.67" fill="#8DBFDC"/>
<rect x="70.46" y="200.33" width="4.72" height="22.67" fill="#A0C9E1"/>
<rect x="74.28" y="200.33" width="4.72" height="22.67" fill="#97C5DF"/>
<rect x="78.09" y="200.33" width="4.72" height="22.67" fill="#2565AA"/>
<rect x="81.91" y="200.33" width="4.72" height="22.67" fill="#2565AA"/>
<rect x="85.72" y="200.33" width="4.72" height="22.67" fill="#2565AA"/>
<rect x="89.54" y="200.33" width="4.72" height="22.67" fill="#A5CDE3"/>
<rect x="93.36" y="200.33" width="4.72" height="22.67" fill="#A5CDE3"/>
<rect x="97.17" y="200.33" width="4.72" height="22.67" fill="#A5CDE3"/>
<rect x="100.99" y="200.33" width="4.72" height="22.67" fill="#EBDDD6"/>
<rect x="104.8" y="200.33" width="4.72" height="22.67" fill="#EBDDD6"/>
<rect x="108.62" y="200.33" width="4.72" height="22.67" fill="#E6DFDC"/>
<rect x="112.44" y="200.33" width="4.72" height="22.67" fill="#9CC8E0"/>
<rect x="116.25" y="200.33" width="4.72" height="22.67" fill="#9CC8E0"/>
<rect x="120.07" y="200.33" width="4.72" height="22.67" fill="#9CC8E0"/>
<rect x="123.88" y="200.33" width="4.72" height="22.67" fill="#A5CDE3"/>
<rect x="127.7" y="200.33" width="4.72" height="22.67" fill="#A5CDE3"/>
<rect x="131.52" y="200.33" width="4.72" height="22.67" fill="#A5CDE3"/>
<rect x="135.33" y="200.33" width="4.72" height="22.67" fill="#D3E4EF"/>
<rect x="139.15" y="200.33" width="4.72" height="22.67" fill="#D3E4EF"/>
<rect x="142.96" y="200.33" width="4.72" height="22.67" fill="#E0E4E9"/>
<rect x="146.78" y="200.33" width="4.72" height="22.67" fill="#E07B62"/>
<rect x="150.6" y="200.33" width="4.72" height="22.67" fill="#D96A55"/>
<rect x="154.41" y="200.33" width="4.72" height="22.67" fill="#E07B62"/>
<rect x="158.23" y="200.33" width="4.72" height="22.67" fill="#E8E2E0"/>
<rect x="162.04" y="200.33" width="4.72" height="22.67" fill="#DCE3EA"/>
<rect x="165.86" y="200.33" width="4.72" height="22.67" fill="#EEDED6"/>
<rect x="169.68" y="200.33" width="4.72" height="22.67" fill="#D3E4EF"/>
<rect x="173.49" y="200.33" width="4.72" height="22.67" fill="#A5CDE3"/>
<rect x="177.31" y="200.33" width="4.72" height="22.67" fill="#BDD9EA"/>
<rect x="181.12" y="200.33" width="4.72" height="22.67" fill="#FAD3BF"/>
<rect x="184.94" y="200.33" width="4.72" height="22.67" fill="#F9C8AE"/>
<rect x="188.75" y="200.33" width="4.72" height="22.67" fill="#F9C8AE"/>
<rect x="192.57" y="200.33" width="4.72" height="22.67" fill="#A01A30"/>
<rect x="196.39" y="200.33" width="4.72" height="22.67" fill="#8A0A27"/>
<rect x="200.2" y="200.33" width="4.72" height="22.67" fill="#700020"/>
<rect x="204.02" y="200.33" width="4.72" height="22.67" fill="#F8D8C8"/>
<rect x="207.83" y="200.33" width="4.72" height="22.67" fill="#FADACB"/>
<rect x="211.65" y="200.33" width="4.72" height="22.67" fill="#ECE0DA"/>
<rect x="215.47" y="200.33" width="4.72" height="22.67" fill="#C0DBEB"/>
<rect x="219.28" y="200.33" width="4.72" height="22.67" fill="#C0DBEB"/>
<rect x="223.1" y="200.33" width="4.72" height="22.67" fill="#C7DFED"/>
<rect x="226.91" y="200.33" width="4.72" height="22.67" fill="#E8E2E0"/>
<rect x="230.73" y="200.33" width="4.72" height="22.67" fill="#E8E2E0"/>
<rect x="234.55" y="200.33" width="4.72" height="22.67" fill="#F0DFD8"/>
<rect x="238.36" y="200.33" width="4.72" height="22.67" fill="#E07B62"/>
<rect x="242.18" y="200.33" width="4.72" height="22.67" fill="#D05A4A"/>
<rect x="245.99" y="200.33" width="4.72" height="22.67" fill="#E07B62"/>
<rect x="249.81" y="200.33" width="4.72" height="22.67" fill="#F9D8C8"/>
<rect x="253.63" y="200.33" width="4.72" height="22.67" fill="#E6E2E2"/>
<rect x="257.44" y="200.33" width="4.72" height="22.67" fill="#F3DED4"/>
<rect x="261.26" y="200.33" width="4.72" height="22.67" fill="#D3E4EF"/>
<rect x="265.07" y="200.33" width="4.72" height="22.67" fill="#BDD9EA"/>
<rect x="268.89" y="200.33" width="4.72" height="22.67" fill="#C7DFED"/>
<rect x="272.71" y="200.33" width="4.72" height="22.67" fill="#F5B596"/>
<rect x="276.52" y="200.33" width="4.72" height="22.67" fill="#F5B596"/>
<rect x="280.34" y="200.33" width="4.72" height="22.67" fill="#F5B596"/>
<rect x="284.15" y="200.33" width="4.72" height="22.67" fill="#8A0A27"/>
<rect x="287.97" y="200.33" width="4.72" height="22.67" fill="#7A0424"/>
<rect x="291.79" y="200.33" width="4.72" height="22.67" fill="#6E0020"/>
<rect x="295.6" y="200.33" width="4.72" height="22.67" fill="#F9C9AF"/>
<rect x="299.42" y="200.33" width="4.72" height="22.67" fill="#F9C9AF"/>
<rect x="303.23" y="200.33" width="3.82" height="22.67" fill="#FAD3BF"/>
<path d="M32.3 188.5H24.5V211.5" stroke="#3c3c3c" stroke-width="1" fill="none"/>
<path d="M24.5 211.5H32.3" stroke="#3c3c3c" stroke-width="1" stroke-opacity="1"/>
<path d="M32.3 166.5H0.5V200.5H24.5" stroke="#3c3c3c" stroke-width="1" fill="none"/>
<text x="308.9" y="146.9" font-size="5" font-weight="bold" fill="#222" font-family="Liberation Sans, sans-serif">phenotype</text>
<text x="308.9" y="152.9" font-size="5" font-weight="bold" fill="#222" font-family="Liberation Sans, sans-serif">Time</text>
<text x="308.9" y="168.53" font-size="5" fill="#1e1e1e" font-family="Liberation Sans, sans-serif">butyric acid</text>
<text x="308.9" y="191.2" font-size="5" fill="#1e1e1e" font-family="Liberation Sans, sans-serif">acetic acid</text>
<text x="308.9" y="213.86" font-size="5" fill="#1e1e1e" font-family="Liberation Sans, sans-serif">propionic acid</text>
<text transform="translate(35.47 225.8) rotate(90)" font-size="7" fill="#000" font-family="Liberation Sans, sans-serif">B-4h</text>
<text transform="translate(46.92 225.8) rotate(90)" font-size="7" fill="#000" font-family="Liberation Sans, sans-serif">GN-4h</text>
<text transform="translate(58.37 225.8) rotate(90)" font-size="7" fill="#000" font-family="Liberation Sans, sans-serif">GPA-4h</text>
<text transform="translate(69.82 225.8) rotate(90)" font-size="7" fill="#000" font-family="Liberation Sans, sans-serif">GS-4h</text>
<text transform="translate(81.27 225.8) rotate(90)" font-size="7" fill="#000" font-family="Liberation Sans, sans-serif">PA-4h</text>
<text transform="translate(92.71 225.8) rotate(90)" font-size="7" fill="#000" font-family="Liberation Sans, sans-serif">RN-4h</text>
<text transform="translate(104.16 225.8) rotate(90)" font-size="7" fill="#000" font-family="Liberation Sans, sans-serif">RPA-4h</text>
<text transform="translate(115.61 225.8) rotate(90)" font-size="7" fill="#000" font-family="Liberation Sans, sans-serif">RS-4h</text>
<text transform="translate(127.06 225.8) rotate(90)" font-size="7" fill="#000" font-family="Liberation Sans, sans-serif">B-24h</text>
<text transform="translate(138.51 225.8) rotate(90)" font-size="7" fill="#000" font-family="Liberation Sans, sans-serif">GN-24h</text>
<text transform="translate(149.95 225.8) rotate(90)" font-size="7" fill="#000" font-family="Liberation Sans, sans-serif">GPA-24h</text>
<text transform="translate(161.4 225.8) rotate(90)" font-size="7" fill="#000" font-family="Liberation Sans, sans-serif">GS-24h</text>
<text transform="translate(172.85 225.8) rotate(90)" font-size="7" fill="#000" font-family="Liberation Sans, sans-serif">PA-24h</text>
<text transform="translate(184.3 225.8) rotate(90)" font-size="7" fill="#000" font-family="Liberation Sans, sans-serif">RN-24h</text>
<text transform="translate(195.74 225.8) rotate(90)" font-size="7" fill="#000" font-family="Liberation Sans, sans-serif">RPA-24h</text>
<text transform="translate(207.19 225.8) rotate(90)" font-size="7" fill="#000" font-family="Liberation Sans, sans-serif">RS-24h</text>
<text transform="translate(218.64 225.8) rotate(90)" font-size="7" fill="#000" font-family="Liberation Sans, sans-serif">B-48h</text>
<text transform="translate(230.09 225.8) rotate(90)" font-size="7" fill="#000" font-family="Liberation Sans, sans-serif">GN-48h</text>
<text transform="translate(241.54 225.8) rotate(90)" font-size="7" fill="#000" font-family="Liberation Sans, sans-serif">GPA-48h</text>
<text transform="translate(252.98 225.8) rotate(90)" font-size="7" fill="#000" font-family="Liberation Sans, sans-serif">GS-48h</text>
<text transform="translate(264.43 225.8) rotate(90)" font-size="7" fill="#000" font-family="Liberation Sans, sans-serif">PA-48h</text>
<text transform="translate(275.88 225.8) rotate(90)" font-size="7" fill="#000" font-family="Liberation Sans, sans-serif">RN-48h</text>
<text transform="translate(287.33 225.8) rotate(90)" font-size="7" fill="#000" font-family="Liberation Sans, sans-serif">RPA-48h</text>
<text transform="translate(298.78 225.8) rotate(90)" font-size="7" fill="#000" font-family="Liberation Sans, sans-serif">RS-48h</text>
<rect x="344" y="140.9" width="5.8" height="91.5" fill="url(#rdbu)"/>
<text x="353.3" y="151.6" font-size="5.2" fill="#1e1e1e" font-family="Liberation Sans, sans-serif">2</text>
<text x="353.3" y="170.5" font-size="5.2" fill="#1e1e1e" font-family="Liberation Sans, sans-serif">1</text>
<text x="353.3" y="189.4" font-size="5.2" fill="#1e1e1e" font-family="Liberation Sans, sans-serif">0</text>
<text x="352.3" y="209" font-size="5.2" fill="#1e1e1e" font-family="Liberation Sans, sans-serif">-1</text>
<text x="352.3" y="227.3" font-size="5.2" fill="#1e1e1e" font-family="Liberation Sans, sans-serif">-2</text>
<text x="358.1" y="145.2" font-size="5" font-weight="bold" fill="#222" font-family="Liberation Sans, sans-serif">phenotype</text>
<rect x="358.1" y="146.7" width="6.7" height="6.68" fill="#4FB9FF"/>
<text x="366.2" y="151.8" font-size="5" fill="#1e1e1e" font-family="Liberation Sans, sans-serif">Blank</text>
<rect x="358.1" y="153.33" width="6.7" height="6.68" fill="#FF8BF5"/>
<text x="366.2" y="158.43" font-size="5" fill="#1e1e1e" font-family="Liberation Sans, sans-serif">GN</text>
<rect x="358.1" y="159.96" width="6.7" height="6.68" fill="#FF7FE6"/>
<text x="366.2" y="165.06" font-size="5" fill="#1e1e1e" font-family="Liberation Sans, sans-serif">GPA</text>
<rect x="358.1" y="166.59" width="6.7" height="6.68" fill="#6ACB14"/>
<text x="366.2" y="171.69" font-size="5" fill="#1e1e1e" font-family="Liberation Sans, sans-serif">GS</text>
<rect x="358.1" y="173.22" width="6.7" height="6.68" fill="#DDAE00"/>
<text x="366.2" y="178.32" font-size="5" fill="#1e1e1e" font-family="Liberation Sans, sans-serif">PA</text>
<rect x="358.1" y="179.85" width="6.7" height="6.68" fill="#00D6E6"/>
<text x="366.2" y="184.95" font-size="5" fill="#1e1e1e" font-family="Liberation Sans, sans-serif">RN</text>
<rect x="358.1" y="186.48" width="6.7" height="6.68" fill="#05D672"/>
<text x="366.2" y="191.58" font-size="5" fill="#1e1e1e" font-family="Liberation Sans, sans-serif">RPA</text>
<rect x="358.1" y="193.11" width="6.7" height="6.68" fill="#FFA040"/>
<text x="366.2" y="198.21" font-size="5" fill="#1e1e1e" font-family="Liberation Sans, sans-serif">RS</text>
<text x="358.1" y="209.2" font-size="5" font-weight="bold" fill="#222" font-family="Liberation Sans, sans-serif">Time</text>
<rect x="358.1" y="210.6" width="6.7" height="6.8" fill="#B7BF00"/>
<text x="366.2" y="215.7" font-size="5" fill="#1e1e1e" font-family="Liberation Sans, sans-serif">24 h</text>
<rect x="358.1" y="217.35" width="6.7" height="6.8" fill="#C3A6FF"/>
<text x="366.2" y="222.45" font-size="5" fill="#1e1e1e" font-family="Liberation Sans, sans-serif">4 h</text>
<rect x="358.1" y="224.1" width="6.7" height="6.8" fill="#15DCAE"/>
<text x="366.2" y="229.2" font-size="5" fill="#1e1e1e" font-family="Liberation Sans, sans-serif">48 h</text>
<rect x="439.6" y="27.7" width="98.8" height="122" fill="none" stroke="#555" stroke-width="0.9"/>
<path d="M439.6 136H436.6" stroke="#555" stroke-width="0.8"/>
<text transform="translate(432.3 136) rotate(-90)" text-anchor="middle" font-size="6.2" fill="#222" font-family="Liberation Sans, sans-serif">-1.0</text>
<path d="M439.6 119.2H436.6" stroke="#555" stroke-width="0.8"/>
<text transform="translate(432.3 119.2) rotate(-90)" text-anchor="middle" font-size="6.2" fill="#222" font-family="Liberation Sans, sans-serif">-0.5</text>
<path d="M439.6 102.4H436.6" stroke="#555" stroke-width="0.8"/>
<text transform="translate(432.3 102.4) rotate(-90)" text-anchor="middle" font-size="6.2" fill="#222" font-family="Liberation Sans, sans-serif">0.0</text>
<path d="M439.6 85.6H436.6" stroke="#555" stroke-width="0.8"/>
<text transform="translate(432.3 85.6) rotate(-90)" text-anchor="middle" font-size="6.2" fill="#222" font-family="Liberation Sans, sans-serif">0.5</text>
<path d="M439.6 68.8H436.6" stroke="#555" stroke-width="0.8"/>
<text transform="translate(432.3 68.8) rotate(-90)" text-anchor="middle" font-size="6.2" fill="#222" font-family="Liberation Sans, sans-serif">1.0</text>
<path d="M439.6 52H436.6" stroke="#555" stroke-width="0.8"/>
<text transform="translate(432.3 52) rotate(-90)" text-anchor="middle" font-size="6.2" fill="#222" font-family="Liberation Sans, sans-serif">1.5</text>
<path d="M439.6 35.2H436.6" stroke="#555" stroke-width="0.8"/>
<text transform="translate(432.3 35.2) rotate(-90)" text-anchor="middle" font-size="6.2" fill="#222" font-family="Liberation Sans, sans-serif">2.0</text>
<path d="M443.2 149.7V153.7" stroke="#555" stroke-width="0.8"/>
<text transform="translate(442.5 162) scale(1 1.15)" text-anchor="middle" font-size="6.1" fill="#111" font-family="Liberation Sans, sans-serif">Blank</text>
<path d="M456.24 149.7V153.7" stroke="#555" stroke-width="0.8"/>
<text transform="translate(456.24 162) scale(1 1.15)" text-anchor="middle" font-size="6.1" fill="#111" font-family="Liberation Sans, sans-serif">GN</text>
<path d="M469.28 149.7V153.7" stroke="#555" stroke-width="0.8"/>
<text transform="translate(469.28 162) scale(1 1.15)" text-anchor="middle" font-size="6.1" fill="#111" font-family="Liberation Sans, sans-serif">GPA</text>
<path d="M482.32 149.7V153.7" stroke="#555" stroke-width="0.8"/>
<text transform="translate(482.32 162) scale(1 1.15)" text-anchor="middle" font-size="6.1" fill="#111" font-family="Liberation Sans, sans-serif">GS</text>
<path d="M495.36 149.7V153.7" stroke="#555" stroke-width="0.8"/>
<text transform="translate(495.36 162) scale(1 1.15)" text-anchor="middle" font-size="6.1" fill="#111" font-family="Liberation Sans, sans-serif">PA</text>
<path d="M508.4 149.7V153.7" stroke="#555" stroke-width="0.8"/>
<text transform="translate(508.4 162) scale(1 1.15)" text-anchor="middle" font-size="6.1" fill="#111" font-family="Liberation Sans, sans-serif">RN</text>
<path d="M521.44 149.7V153.7" stroke="#555" stroke-width="0.8"/>
<text transform="translate(521.44 162) scale(1 1.15)" text-anchor="middle" font-size="6.1" fill="#111" font-family="Liberation Sans, sans-serif">RPA</text>
<path d="M534.48 149.7V153.7" stroke="#555" stroke-width="0.8"/>
<text transform="translate(534.48 162) scale(1 1.15)" text-anchor="middle" font-size="6.1" fill="#111" font-family="Liberation Sans, sans-serif">RS</text>
<path d="M444.52 142.28L454.92 117.63" stroke="#DF536B" stroke-width="0.65" stroke-opacity="0.85"/>
<path d="M457 111.18L468.52 60.69" stroke="#DF536B" stroke-width="0.65" stroke-opacity="0.85"/>
<path d="M469.85 60.73L481.75 131.3" stroke="#DF536B" stroke-width="0.65" stroke-opacity="0.85"/>
<path d="M485.08 136.65L492.6 142.07" stroke="#DF536B" stroke-width="0.65" stroke-opacity="0.85"/>
<path d="M496.17 140.76L507.59 94.28" stroke="#DF536B" stroke-width="0.65" stroke-opacity="0.85"/>
<path d="M509.14 87.66L520.7 35.66" stroke="#DF536B" stroke-width="0.65" stroke-opacity="0.85"/>
<path d="M522.11 35.68L533.81 94.03" stroke="#DF536B" stroke-width="0.65" stroke-opacity="0.85"/>
<ellipse cx="443.2" cy="145.41" rx="1.6" ry="2.0" fill="#DF536B"/>
<ellipse cx="456.24" cy="114.5" rx="1.6" ry="2.0" fill="#DF536B"/>
<ellipse cx="469.28" cy="57.38" rx="1.6" ry="2.0" fill="#DF536B"/>
<ellipse cx="482.32" cy="134.66" rx="1.6" ry="2.0" fill="#DF536B"/>
<ellipse cx="495.36" cy="144.06" rx="1.6" ry="2.0" fill="#DF536B"/>
<ellipse cx="508.4" cy="90.98" rx="1.6" ry="2.0" fill="#DF536B"/>
<ellipse cx="521.44" cy="32.34" rx="1.6" ry="2.0" fill="#DF536B"/>
<ellipse cx="534.48" cy="97.36" rx="1.6" ry="2.0" fill="#DF536B"/>
<text transform="translate(489.5 20.8) scale(1 1.1)" text-anchor="middle" font-size="8" font-weight="bold" fill="#111" font-family="Liberation Sans, sans-serif">phenotype, comp.1</text>
<text x="487.5" y="177.5" text-anchor="middle" font-size="7.4" fill="#111" font-family="Liberation Sans, sans-serif">phenotype</text>
<text transform="translate(416.6 88.7) scale(1 1.08) rotate(-90)" text-anchor="middle" font-size="6.1" fill="#111" font-family="Liberation Sans, sans-serif">Scores ( 98.26 % of variation explained)</text>
<text x="416" y="4.5" font-size="7" font-weight="bold" fill="#111" font-family="Liberation Sans, sans-serif">c</text>
<rect x="583.5" y="26" width="98.3" height="122.2" fill="none" stroke="#555" stroke-width="0.9"/>
<path d="M583.5 127.3H580.5" stroke="#555" stroke-width="0.8"/>
<text transform="translate(575.8 127.3) rotate(-90)" text-anchor="middle" font-size="6.2" fill="#222" font-family="Liberation Sans, sans-serif">-0.5</text>
<path d="M583.5 105.4H580.5" stroke="#555" stroke-width="0.8"/>
<text transform="translate(575.8 105.4) rotate(-90)" text-anchor="middle" font-size="6.2" fill="#222" font-family="Liberation Sans, sans-serif">0.0</text>
<path d="M583.5 83.5H580.5" stroke="#555" stroke-width="0.8"/>
<text transform="translate(575.8 83.5) rotate(-90)" text-anchor="middle" font-size="6.2" fill="#222" font-family="Liberation Sans, sans-serif">0.5</text>
<path d="M583.5 61.6H580.5" stroke="#555" stroke-width="0.8"/>
<text transform="translate(575.8 61.6) rotate(-90)" text-anchor="middle" font-size="6.2" fill="#222" font-family="Liberation Sans, sans-serif">1.0</text>
<path d="M583.5 39.7H580.5" stroke="#555" stroke-width="0.8"/>
<text transform="translate(575.8 39.7) rotate(-90)" text-anchor="middle" font-size="6.2" fill="#222" font-family="Liberation Sans, sans-serif">1.5</text>
<path d="M587.4 148.2V152.2" stroke="#555" stroke-width="0.8"/>
<text transform="translate(588.2 160) scale(1 1.15)" text-anchor="middle" font-size="6.1" fill="#111" font-family="Liberation Sans, sans-serif">4 h</text>
<path d="M632.5 148.2V152.2" stroke="#555" stroke-width="0.8"/>
<text transform="translate(633.3 160) scale(1 1.15)" text-anchor="middle" font-size="6.1" fill="#111" font-family="Liberation Sans, sans-serif">24 h</text>
<path d="M677.8 148.2V152.2" stroke="#555" stroke-width="0.8"/>
<text transform="translate(678.6 160) scale(1 1.15)" text-anchor="middle" font-size="6.1" fill="#111" font-family="Liberation Sans, sans-serif">48 h</text>
<path d="M588.65 32.79L631.25 140.78" stroke="#DF536B" stroke-width="0.65" stroke-opacity="0.85"/>
<path d="M635.89 143.75L674.41 141.51" stroke="#DF536B" stroke-width="0.65" stroke-opacity="0.85"/>
<ellipse cx="587.4" cy="29.63" rx="1.6" ry="2.0" fill="#DF536B"/>
<ellipse cx="632.5" cy="143.94" rx="1.6" ry="2.0" fill="#DF536B"/>
<ellipse cx="677.8" cy="141.32" rx="1.6" ry="2.0" fill="#DF536B"/>
<text transform="translate(629.4 21) scale(1 1.1)" text-anchor="middle" font-size="7.9" font-weight="bold" fill="#111" font-family="Liberation Sans, sans-serif">Time, comp.1</text>
<text x="633.6" y="176.4" text-anchor="middle" font-size="7.4" fill="#111" font-family="Liberation Sans, sans-serif">phenotype</text>
<text transform="translate(561 87.1) scale(1 1.08) rotate(-90)" text-anchor="middle" font-size="6.1" fill="#111" font-family="Liberation Sans, sans-serif">Scores ( 99.9 % of variation explained)</text>
<rect x="439.5" y="218.4" width="99.1" height="121.9" fill="none" stroke="#555" stroke-width="0.9"/>
<path d="M439.5 330.8H436.5" stroke="#555" stroke-width="0.8"/>
<text transform="translate(432.3 330.8) rotate(-90)" text-anchor="middle" font-size="6.2" fill="#222" font-family="Liberation Sans, sans-serif">-1.0</text>
<path d="M439.5 312.15H436.5" stroke="#555" stroke-width="0.8"/>
<text transform="translate(432.3 312.15) rotate(-90)" text-anchor="middle" font-size="6.2" fill="#222" font-family="Liberation Sans, sans-serif">-0.5</text>
<path d="M439.5 293.5H436.5" stroke="#555" stroke-width="0.8"/>
<text transform="translate(432.3 293.5) rotate(-90)" text-anchor="middle" font-size="6.2" fill="#222" font-family="Liberation Sans, sans-serif">0.0</text>
<path d="M439.5 274.85H436.5" stroke="#555" stroke-width="0.8"/>
<text transform="translate(432.3 274.85) rotate(-90)" text-anchor="middle" font-size="6.2" fill="#222" font-family="Liberation Sans, sans-serif">0.5</text>
<path d="M439.5 256.2H436.5" stroke="#555" stroke-width="0.8"/>
<text transform="translate(432.3 256.2) rotate(-90)" text-anchor="middle" font-size="6.2" fill="#222" font-family="Liberation Sans, sans-serif">1.0</text>
<path d="M439.5 237.55H436.5" stroke="#555" stroke-width="0.8"/>
<text transform="translate(432.3 237.55) rotate(-90)" text-anchor="middle" font-size="6.2" fill="#222" font-family="Liberation Sans, sans-serif">1.5</text>
<path d="M439.5 218.9H436.5" stroke="#555" stroke-width="0.8"/>
<text transform="translate(432.3 218.9) rotate(-90)" text-anchor="middle" font-size="6.2" fill="#222" font-family="Liberation Sans, sans-serif">2.0</text>
<path d="M442.9 340.3V344.3" stroke="#555" stroke-width="0.8"/>
<text transform="translate(442.2 352.4) scale(1 1.15)" text-anchor="middle" font-size="6.1" fill="#111" font-family="Liberation Sans, sans-serif">Blank</text>
<path d="M455.99 340.3V344.3" stroke="#555" stroke-width="0.8"/>
<text transform="translate(455.99 352.4) scale(1 1.15)" text-anchor="middle" font-size="6.1" fill="#111" font-family="Liberation Sans, sans-serif">GN</text>
<path d="M469.08 340.3V344.3" stroke="#555" stroke-width="0.8"/>
<text transform="translate(469.08 352.4) scale(1 1.15)" text-anchor="middle" font-size="6.1" fill="#111" font-family="Liberation Sans, sans-serif">GPA</text>
<path d="M482.17 340.3V344.3" stroke="#555" stroke-width="0.8"/>
<text transform="translate(482.17 352.4) scale(1 1.15)" text-anchor="middle" font-size="6.1" fill="#111" font-family="Liberation Sans, sans-serif">GS</text>
<path d="M495.26 340.3V344.3" stroke="#555" stroke-width="0.8"/>
<text transform="translate(495.26 352.4) scale(1 1.15)" text-anchor="middle" font-size="6.1" fill="#111" font-family="Liberation Sans, sans-serif">PA</text>
<path d="M508.35 340.3V344.3" stroke="#555" stroke-width="0.8"/>
<text transform="translate(508.35 352.4) scale(1 1.15)" text-anchor="middle" font-size="6.1" fill="#111" font-family="Liberation Sans, sans-serif">RN</text>
<path d="M521.44 340.3V344.3" stroke="#555" stroke-width="0.8"/>
<text transform="translate(521.44 352.4) scale(1 1.15)" text-anchor="middle" font-size="6.1" fill="#111" font-family="Liberation Sans, sans-serif">RPA</text>
<path d="M534.53 340.3V344.3" stroke="#555" stroke-width="0.8"/>
<text transform="translate(534.53 352.4) scale(1 1.15)" text-anchor="middle" font-size="6.1" fill="#111" font-family="Liberation Sans, sans-serif">RS</text>
<path d="M444.66 333.11L454.23 317.3" stroke="#DF536B" stroke-width="0.65" stroke-opacity="0.85"/>
<path d="M456.76 311.08L468.31 261.38" stroke="#DF536B" stroke-width="0.65" stroke-opacity="0.85"/>
<path d="M469.97 261.35L481.28 302.9" stroke="#DF536B" stroke-width="0.65" stroke-opacity="0.85"/>
<path d="M483.58 309.28L493.85 331.81" stroke="#DF536B" stroke-width="0.65" stroke-opacity="0.85"/>
<path d="M496.13 331.62L507.48 288.58" stroke="#DF536B" stroke-width="0.65" stroke-opacity="0.85"/>
<path d="M509.05 281.97L520.74 226.33" stroke="#DF536B" stroke-width="0.65" stroke-opacity="0.85"/>
<path d="M522.09 226.34L533.88 286.81" stroke="#DF536B" stroke-width="0.65" stroke-opacity="0.85"/>
<ellipse cx="442.9" cy="336.02" rx="1.6" ry="2.0" fill="#DF536B"/>
<ellipse cx="455.99" cy="314.39" rx="1.6" ry="2.0" fill="#DF536B"/>
<ellipse cx="469.08" cy="258.06" rx="1.6" ry="2.0" fill="#DF536B"/>
<ellipse cx="482.17" cy="306.18" rx="1.6" ry="2.0" fill="#DF536B"/>
<ellipse cx="495.26" cy="334.9" rx="1.6" ry="2.0" fill="#DF536B"/>
<ellipse cx="508.35" cy="285.29" rx="1.6" ry="2.0" fill="#DF536B"/>
<ellipse cx="521.44" cy="223" rx="1.6" ry="2.0" fill="#DF536B"/>
<ellipse cx="534.53" cy="290.14" rx="1.6" ry="2.0" fill="#DF536B"/>
<text transform="translate(488.3 210.9) scale(1 1.1)" text-anchor="middle" font-size="8" font-weight="bold" fill="#111" font-family="Liberation Sans, sans-serif">phenotype, comp.1</text>
<text x="487.4" y="367.4" text-anchor="middle" font-size="7.4" fill="#111" font-family="Liberation Sans, sans-serif">phenotype</text>
<text transform="translate(416.4 279.35) scale(1 1.08) rotate(-90)" text-anchor="middle" font-size="6.1" fill="#111" font-family="Liberation Sans, sans-serif">Scores ( 99.18 % of variation explained)</text>
<text x="416.4" y="202.7" font-size="7" font-weight="bold" fill="#111" font-family="Liberation Sans, sans-serif">d</text>
<rect x="583.7" y="218.6" width="97.8" height="122.4" fill="none" stroke="#555" stroke-width="0.9"/>
<path d="M583.7 332.6H580.7" stroke="#555" stroke-width="0.8"/>
<text transform="translate(575.8 332.6) rotate(-90)" text-anchor="middle" font-size="6.2" fill="#222" font-family="Liberation Sans, sans-serif">-1.0</text>
<path d="M583.7 313.95H580.7" stroke="#555" stroke-width="0.8"/>
<text transform="translate(575.8 313.95) rotate(-90)" text-anchor="middle" font-size="6.2" fill="#222" font-family="Liberation Sans, sans-serif">-0.5</text>
<path d="M583.7 295.3H580.7" stroke="#555" stroke-width="0.8"/>
<text transform="translate(575.8 295.3) rotate(-90)" text-anchor="middle" font-size="6.2" fill="#222" font-family="Liberation Sans, sans-serif">0.0</text>
<path d="M583.7 276.65H580.7" stroke="#555" stroke-width="0.8"/>
<text transform="translate(575.8 276.65) rotate(-90)" text-anchor="middle" font-size="6.2" fill="#222" font-family="Liberation Sans, sans-serif">0.5</text>
<path d="M583.7 258H580.7" stroke="#555" stroke-width="0.8"/>
<text transform="translate(575.8 258) rotate(-90)" text-anchor="middle" font-size="6.2" fill="#222" font-family="Liberation Sans, sans-serif">1.0</text>
<path d="M583.7 239.35H580.7" stroke="#555" stroke-width="0.8"/>
<text transform="translate(575.8 239.35) rotate(-90)" text-anchor="middle" font-size="6.2" fill="#222" font-family="Liberation Sans, sans-serif">1.5</text>
<path d="M583.7 220.7H580.7" stroke="#555" stroke-width="0.8"/>
<text transform="translate(575.8 220.7) rotate(-90)" text-anchor="middle" font-size="6.2" fill="#222" font-family="Liberation Sans, sans-serif">2.0</text>
<path d="M587.2 341V345" stroke="#555" stroke-width="0.8"/>
<text transform="translate(588 353.6) scale(1 1.15)" text-anchor="middle" font-size="6.1" fill="#111" font-family="Liberation Sans, sans-serif">4 h</text>
<path d="M632.4 341V345" stroke="#555" stroke-width="0.8"/>
<text transform="translate(633.2 353.6) scale(1 1.15)" text-anchor="middle" font-size="6.1" fill="#111" font-family="Liberation Sans, sans-serif">24 h</text>
<path d="M677.9 341V345" stroke="#555" stroke-width="0.8"/>
<text transform="translate(678.7 353.6) scale(1 1.15)" text-anchor="middle" font-size="6.1" fill="#111" font-family="Liberation Sans, sans-serif">48 h</text>
<path d="M588.58 226.05L631.02 322.03" stroke="#DF536B" stroke-width="0.65" stroke-opacity="0.85"/>
<path d="M635.69 326L674.61 336.21" stroke="#DF536B" stroke-width="0.65" stroke-opacity="0.85"/>
<ellipse cx="587.2" cy="222.94" rx="1.6" ry="2.0" fill="#DF536B"/>
<ellipse cx="632.4" cy="325.14" rx="1.6" ry="2.0" fill="#DF536B"/>
<ellipse cx="677.9" cy="337.08" rx="1.6" ry="2.0" fill="#DF536B"/>
<text transform="translate(630.4 211.4) scale(1 1.1)" text-anchor="middle" font-size="7.9" font-weight="bold" fill="#111" font-family="Liberation Sans, sans-serif">Time, comp.1</text>
<text x="632.4" y="370.2" text-anchor="middle" font-size="7.4" fill="#111" font-family="Liberation Sans, sans-serif">phenotype</text>
<text transform="translate(561 279.8) scale(1 1.08) rotate(-90)" text-anchor="middle" font-size="6.1" fill="#111" font-family="Liberation Sans, sans-serif">Scores ( 99.88 % of variation explained)</text>
<path d="M44 318.9H172.6" stroke="#dcdcdc" stroke-width="0.55" stroke-dasharray="1.4 1.3"/>
<path d="M44 355.1H172.6" stroke="#dcdcdc" stroke-width="0.55" stroke-dasharray="1.4 1.3"/>
<path d="M44 391.3H172.6" stroke="#dcdcdc" stroke-width="0.55" stroke-dasharray="1.4 1.3"/>
<rect x="107.7" y="300.8" width="2.91" height="36.2" fill="#FFE4E1" stroke="#4a4a4a" stroke-width="0.55"/>
<rect x="107.7" y="337" width="22.73" height="36.2" fill="#FFE4E1" stroke="#4a4a4a" stroke-width="0.55"/>
<rect x="107.7" y="373.2" width="22.73" height="36.2" fill="#FFE4E1" stroke="#4a4a4a" stroke-width="0.55"/>
<rect x="42.5" y="282.4" width="131.1" height="144.8" fill="none" stroke="#555" stroke-width="0.7"/>
<path d="M47.1 427.2V430.5" stroke="#555" stroke-width="0.8"/>
<text x="47.1" y="437.7" text-anchor="middle" font-size="4.8" fill="#1e1e1e" font-family="Liberation Sans, sans-serif">-1.0</text>
<path d="M77.4 427.2V430.5" stroke="#555" stroke-width="0.8"/>
<text x="77.4" y="437.7" text-anchor="middle" font-size="4.8" fill="#1e1e1e" font-family="Liberation Sans, sans-serif">-0.5</text>
<path d="M107.7 427.2V430.5" stroke="#555" stroke-width="0.8"/>
<text x="107.7" y="437.7" text-anchor="middle" font-size="4.8" fill="#1e1e1e" font-family="Liberation Sans, sans-serif">0.0</text>
<path d="M138 427.2V430.5" stroke="#555" stroke-width="0.8"/>
<text x="138" y="437.7" text-anchor="middle" font-size="4.8" fill="#1e1e1e" font-family="Liberation Sans, sans-serif">0.5</text>
<path d="M168.3 427.2V430.5" stroke="#555" stroke-width="0.8"/>
<text x="168.3" y="437.7" text-anchor="middle" font-size="4.8" fill="#1e1e1e" font-family="Liberation Sans, sans-serif">1.0</text>
<text x="10.9" y="320.7" font-size="4.7" fill="#1e1e1e" font-family="Liberation Sans, sans-serif">butyric acid</text>
<text x="10.9" y="356.8" font-size="4.7" fill="#1e1e1e" font-family="Liberation Sans, sans-serif">acetic acid</text>
<text x="10.9" y="393.1" font-size="4.7" fill="#1e1e1e" font-family="Liberation Sans, sans-serif">propionic acid</text>
<text x="108.2" y="273.8" text-anchor="middle" font-size="5.5" font-weight="bold" fill="#111" font-family="Liberation Sans, sans-serif">Metadata correlated with the phenotype</text>
<text x="108.2" y="448.6" text-anchor="middle" font-size="4.8" fill="#1e1e1e" font-family="Liberation Sans, sans-serif">Correlation coefficients</text>
<text x="17.9" y="271.4" font-size="7.2" font-weight="bold" fill="#111" font-family="Liberation Sans, sans-serif">e</text>
<path d="M223.4 318.9H352" stroke="#dcdcdc" stroke-width="0.55" stroke-dasharray="1.4 1.3"/>
<path d="M223.4 355.1H352" stroke="#dcdcdc" stroke-width="0.55" stroke-dasharray="1.4 1.3"/>
<path d="M223.4 391.3H352" stroke="#dcdcdc" stroke-width="0.55" stroke-dasharray="1.4 1.3"/>
<rect x="287.1" y="300.8" width="3.15" height="36.2" fill="#FFE4E1" stroke="#4a4a4a" stroke-width="0.55"/>
<rect x="287.1" y="337" width="20.42" height="36.2" fill="#FFE4E1" stroke="#4a4a4a" stroke-width="0.55"/>
<rect x="287.1" y="373.2" width="22.3" height="36.2" fill="#FFE4E1" stroke="#4a4a4a" stroke-width="0.55"/>
<rect x="221.9" y="282.4" width="131.1" height="144.8" fill="none" stroke="#555" stroke-width="0.7"/>
<path d="M226.5 427.2V430.5" stroke="#555" stroke-width="0.8"/>
<text x="226.5" y="437.7" text-anchor="middle" font-size="4.8" fill="#1e1e1e" font-family="Liberation Sans, sans-serif">-1.0</text>
<path d="M256.8 427.2V430.5" stroke="#555" stroke-width="0.8"/>
<text x="256.8" y="437.7" text-anchor="middle" font-size="4.8" fill="#1e1e1e" font-family="Liberation Sans, sans-serif">-0.5</text>
<path d="M287.1 427.2V430.5" stroke="#555" stroke-width="0.8"/>
<text x="287.1" y="437.7" text-anchor="middle" font-size="4.8" fill="#1e1e1e" font-family="Liberation Sans, sans-serif">0.0</text>
<path d="M317.4 427.2V430.5" stroke="#555" stroke-width="0.8"/>
<text x="317.4" y="437.7" text-anchor="middle" font-size="4.8" fill="#1e1e1e" font-family="Liberation Sans, sans-serif">0.5</text>
<path d="M347.7 427.2V430.5" stroke="#555" stroke-width="0.8"/>
<text x="347.7" y="437.7" text-anchor="middle" font-size="4.8" fill="#1e1e1e" font-family="Liberation Sans, sans-serif">1.0</text>
<text x="190.3" y="320.7" font-size="4.7" fill="#1e1e1e" font-family="Liberation Sans, sans-serif">butyric acid</text>
<text x="190.3" y="356.8" font-size="4.7" fill="#1e1e1e" font-family="Liberation Sans, sans-serif">acetic acid</text>
<text x="190.3" y="393.1" font-size="4.7" fill="#1e1e1e" font-family="Liberation Sans, sans-serif">propionic acid</text>
<text x="287.6" y="273.8" text-anchor="middle" font-size="5.5" font-weight="bold" fill="#111" font-family="Liberation Sans, sans-serif">Metadata correlated with the phenotype</text>
<text x="287.6" y="448.6" text-anchor="middle" font-size="4.8" fill="#1e1e1e" font-family="Liberation Sans, sans-serif">Correlation coefficients</text>
<text x="197.2" y="271.4" font-size="7.2" font-weight="bold" fill="#111" font-family="Liberation Sans, sans-serif">f</text>
</svg>
</body></html>
